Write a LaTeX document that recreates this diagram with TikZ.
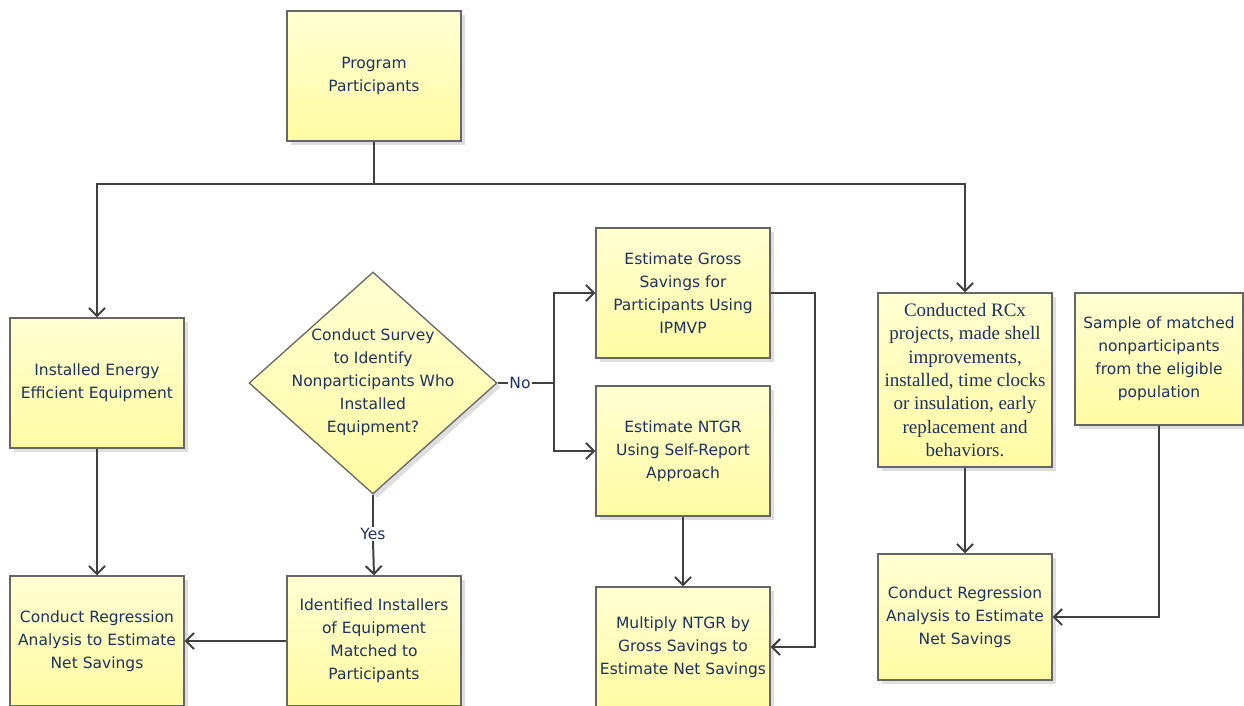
\documentclass[tikz,border=0pt]{standalone}
\usepackage{fontspec}
\setmainfont{DejaVu Sans}
\newfontfamily\serifbox{Liberation Serif}
\usetikzlibrary{shapes.geometric,arrows.meta,shadows}
\definecolor{txt}{HTML}{1C3260}
\definecolor{edge}{HTML}{404040}
\definecolor{bordr}{HTML}{666666}
\definecolor{ytop}{HTML}{FFFFD2}
\definecolor{ybot}{HTML}{FFFBA2}
\tikzset{
  shade box/.style={draw=bordr, line width=1.3pt, top color=ytop, bottom color=ybot,
    drop shadow={shadow xshift=4pt, shadow yshift=-4pt, fill=black!13, opacity=1}},
  box/.style={shade box, text=txt, align=center,
    font=\fontsize{15.5pt}{23pt}\selectfont, minimum width=174pt, minimum height=130pt, inner sep=2pt},
  dia/.style={shade box, shape=diamond, minimum width=248pt, minimum height=222pt, inner sep=0pt},
  dtxt/.style={text=txt, align=center, font=\fontsize{15.5pt}{23pt}\selectfont},
  conn/.style={draw=edge, line width=2pt},
  arr/.style={conn, -{Straight Barb[length=8pt,width=16pt]}},
  lbl/.style={text=txt, font=\fontsize{15.5pt}{23pt}\selectfont, fill=white, inner sep=1pt}
}
\begin{document}
\begin{tikzpicture}[x=1pt,y=-1pt]
\useasboundingbox (0,0) rectangle (1244,705);

\node[box] (pp) at (374,76) {Program\\Participants};
\node[box] (inst) at (97,383) {Installed Energy\\Efficient Equipment};
\node[box] (reg1) at (97,641) {Conduct Regression\\Analysis to Estimate\\Net Savings};
\node[dia] (dia) at (373,383) {};
\node[dtxt] (diat) at (373,382) {Conduct Survey\\to Identify\\Nonparticipants Who\\Installed\\Equipment?};
\node[box] (ident) at (374,641) {Identified Installers\\of Equipment\\Matched to\\Participants};
\node[box] (gross) at (683,293) {Estimate Gross\\Savings for\\Participants Using\\IPMVP};
\node[box] (ntgr) at (683,451) {Estimate NTGR\\Using Self-Report\\Approach};
\node[box, minimum height=120pt] (mult) at (683,647) {Multiply NTGR by\\Gross Savings to\\Estimate Net Savings};
\node[box, minimum height=174pt, font=\serifbox\fontsize{19pt}{23.3pt}\selectfont] (rcx) at (965,380)
  {Conducted RCx\\projects, made shell\\improvements,\\installed, time clocks\\or insulation, early\\replacement and\\behaviors.};
\node[box, minimum width=168pt, minimum height=132pt] (samp) at (1159,359) {Sample of matched\\nonparticipants\\from the eligible\\population};
\node[box, minimum height=126pt] (reg2) at (965,617) {Conduct Regression\\Analysis to Estimate\\Net Savings};

\node[lbl] (no) at (520,383) {No};
\node[lbl] (yes) at (373,534) {Yes};

\coordinate (j0) at (374,184);
\coordinate (jn) at (554,383);

\draw[conn] (pp.south) -- (j0);
\draw[arr] (j0) -| (inst.north);
\draw[arr] (j0) -| (rcx.north);
\draw[arr] (inst.south) -- (reg1.north);
\draw[conn] (dia.east) -- (no.west);
\draw[conn] (no.east) -- (jn);
\draw[arr] (jn) |- (gross.west);
\draw[arr] (jn) |- (ntgr.west);
\draw[conn] (dia.south) -- (yes.north);
\draw[arr] (yes.south) -- (ident.north);
\draw[arr] (ident.west) -- (reg1.east |- ident.west);
\draw[arr] (ntgr.south) -- (mult.north);
\draw[arr] (gross.east) -- ++(44,0) |- (mult.east);
\draw[arr] (rcx.south) -- (reg2.north);
\draw[arr] (samp.south) |- (reg2.east);
\end{tikzpicture}
\end{document}
